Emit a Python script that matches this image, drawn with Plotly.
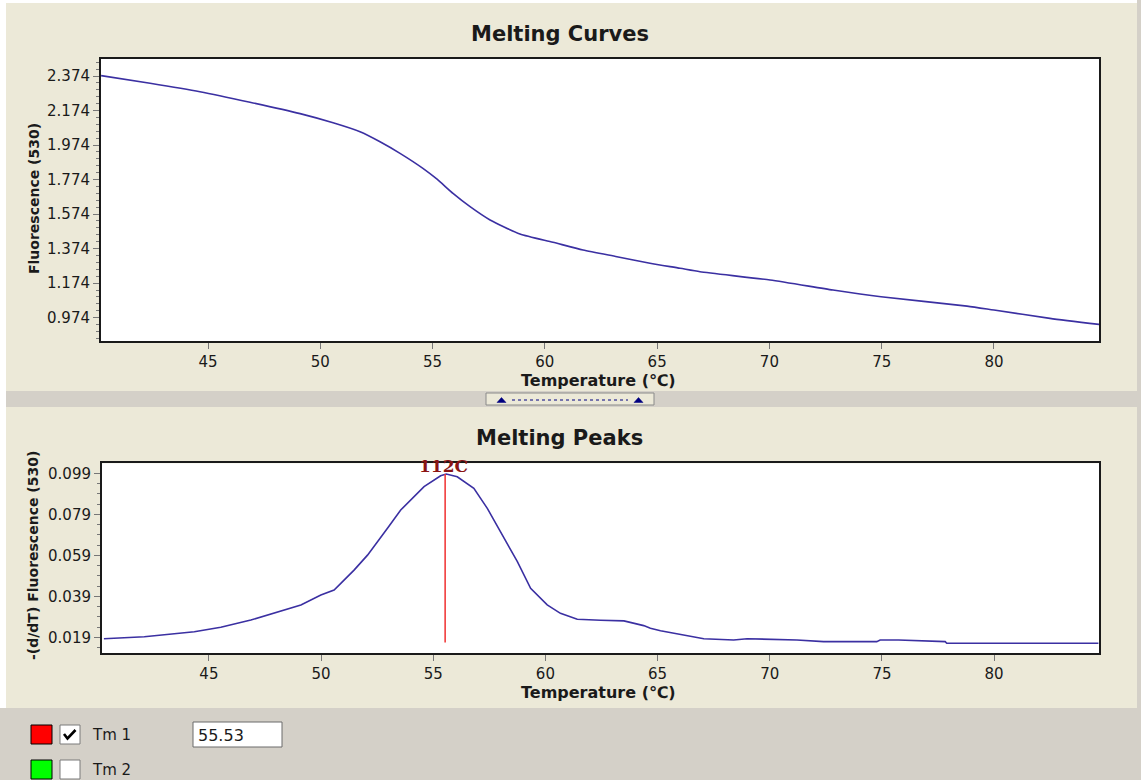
import plotly.graph_objects as go

W, H = 1141, 780

# ---------------- data ----------------
curve_temp = [40.24, 42.42, 44.64, 46.87, 49.10, 50.57, 51.77, 52.66, 53.55, 54.57,
              55.20, 55.91, 56.67, 57.56, 58.89, 60.36, 61.70, 63.21, 64.68, 66.02,
              66.91, 70.03, 72.83, 74.97, 78.80, 80.00, 82.49, 84.68]
curve_fluor = [2.376, 2.332, 2.283, 2.222, 2.156, 2.103, 2.051, 1.993, 1.926, 1.839,
               1.776, 1.694, 1.617, 1.540, 1.459, 1.411, 1.366, 1.327, 1.289, 1.260,
               1.240, 1.192, 1.134, 1.095, 1.041, 1.018, 0.970, 0.935]

peak_temp = [40.32, 42.12, 44.35, 45.53, 46.87, 48.21, 49.10, 49.99, 50.58, 50.88,
             51.47, 52.07, 52.36, 52.96, 53.55, 53.85, 54.59, 55.33, 55.58, 56.07,
             56.81, 57.41, 58.00, 58.75, 59.34, 60.08, 60.67, 61.42, 62.46, 63.50,
             64.38, 64.68, 65.13, 65.87, 66.46, 67.06, 68.39, 68.99, 71.21, 72.40,
             74.77, 74.92, 75.74, 77.82, 77.89, 84.65]
peak_deriv = [0.0183, 0.0193, 0.0217, 0.0239, 0.0274, 0.0320, 0.0348, 0.0396, 0.0421, 0.0453,
              0.0518, 0.0591, 0.0632, 0.0722, 0.0811, 0.0844, 0.0925, 0.0978, 0.0987, 0.0973,
              0.0917, 0.0819, 0.0705, 0.0559, 0.0429, 0.0348, 0.0307, 0.0278, 0.0273, 0.0270,
              0.0247, 0.0234, 0.0222, 0.0206, 0.0193, 0.0183, 0.0177, 0.0183, 0.0177, 0.0169,
              0.0169, 0.0177, 0.0177, 0.0169, 0.0161, 0.0161]

tm_value = 55.53
tm_line_y = [0.0165, 0.0987]
tm_label = "112C"

x_ticks = [45, 50, 55, 60, 65, 70, 75, 80]
top_y_ticks = [0.974, 1.174, 1.374, 1.574, 1.774, 1.974, 2.174, 2.374]
bot_y_ticks = [0.019, 0.039, 0.059, 0.079, 0.099]

legend_items = ["Tm 1", "Tm 2"]
legend_colors = ["#FF0000", "#00FF00"]
legend_checked = [True, False]

# ---------------- helpers ----------------
def X(px):
    return px / W

def Y(py):
    return 1 - py / H

BG = "#ECE9D8"
GRAY = "#D4D0C8"
LINE = "#3b30a2"
TXT = "#1a1a1a"

fig = go.Figure()

fig.add_trace(go.Scatter(x=curve_temp, y=curve_fluor, mode="lines",
                         line=dict(color=LINE, width=1.6, shape="spline", smoothing=0.6),
                         xaxis="x", yaxis="y", showlegend=False, hoverinfo="skip"))
fig.add_trace(go.Scatter(x=peak_temp, y=peak_deriv, mode="lines",
                         line=dict(color=LINE, width=1.6),
                         xaxis="x2", yaxis="y2", showlegend=False, hoverinfo="skip"))
fig.add_trace(go.Scatter(x=[tm_value, tm_value], y=tm_line_y, mode="lines",
                         line=dict(color="#F03030", width=1.5),
                         xaxis="x2", yaxis="y2", showlegend=False, hoverinfo="skip"))

xr = [40.235, 84.676]
tickfont = dict(family="DejaVu Sans", size=15, color=TXT)
axis_common = dict(showline=True, mirror=True, linecolor="#1a1a1a", linewidth=2,
                   ticks="outside", ticklen=6, tickcolor="#777777", tickwidth=1,
                   showgrid=False, zeroline=False, tickfont=tickfont)

layout = dict(
    width=W, height=H,
    margin=dict(l=0, r=0, t=0, b=0),
    paper_bgcolor=BG, plot_bgcolor="white",
    showlegend=False,
    xaxis=dict(domain=[X(101), X(1099)], range=xr, tickvals=x_ticks, anchor="y", **axis_common),
    yaxis=dict(domain=[Y(341), Y(59)], range=[0.8387, 2.4725], tickvals=top_y_ticks,
               tickformat=".3f", anchor="x",
               minor=dict(dtick=0.04, tick0=0.974, ticklen=3, ticks="outside", tickcolor="#777777"),
               **axis_common),
    xaxis2=dict(domain=[X(102), X(1099)], range=xr, tickvals=x_ticks, anchor="y2", **axis_common),
    yaxis2=dict(domain=[Y(653.3), Y(463.3)], range=[0.0112, 0.1039], tickvals=bot_y_ticks,
                tickformat=".3f", anchor="x2",
                minor=dict(dtick=0.005, tick0=0.019, ticklen=3, ticks="outside", tickcolor="#777777"),
                **axis_common),
)

shapes = []
def rect(x0, y0, x1, y1, fill, line_color=None, lw=0, layer="below"):
    shapes.append(dict(type="rect", xref="paper", yref="paper",
                       x0=X(x0), x1=X(x1), y0=Y(y1), y1=Y(y0),
                       fillcolor=fill, layer=layer,
                       line=dict(color=line_color or fill, width=lw)))

# window chrome
rect(0, 0, 6, 708, "white")
rect(0, 0, 1141, 3, "white")
rect(1137, 0, 1141, 780, GRAY)
rect(6, 391, 1137, 407, GRAY)
rect(0, 708, 1141, 780, GRAY)

# splitter button
rect(486, 393, 654, 405, BG, "#8a8a8a", 1, layer="above")
for cx in (501.5, 638.5):
    shapes.append(dict(type="path", xref="paper", yref="paper",
                       path=f"M {X(cx-4.5)} {Y(402.5)} L {X(cx+4.5)} {Y(402.5)} L {X(cx)} {Y(397.5)} Z",
                       fillcolor="#000080", line=dict(color="#000080", width=0.5), layer="above"))
shapes.append(dict(type="line", xref="paper", yref="paper", x0=X(512), x1=X(628),
                   y0=Y(400), y1=Y(400), line=dict(color="#000080", width=1, dash="dot"),
                   layer="above"))

# legend boxes
for i, (name, col, chk) in enumerate(zip(legend_items, legend_colors, legend_checked)):
    top = 725 + i * 35
    rect(31, top, 52, top + 19, col, "#000000", 1, layer="above")
    rect(60, top, 80, top + 19, "white", "#7a7a7a", 1, layer="above")
    if chk:
        shapes.append(dict(type="path", xref="paper", yref="paper",
                           path=f"M {X(64)} {Y(top+9)} L {X(67.5)} {Y(top+13.5)} L {X(75.5)} {Y(top+5)}",
                           line=dict(color="black", width=2.6), layer="above"))

# Tm text box
rect(193, 722, 282, 747, "white", "#6a6a6a", 1, layer="above")

layout["shapes"] = shapes

ann = []
def text(px, py, s, size, bold=False, color=TXT, xanchor="center", yanchor="middle",
         family="DejaVu Sans", angle=0):
    ann.append(dict(x=X(px), y=Y(py), xref="paper", yref="paper",
                    text=f"<b>{s}</b>" if bold else s, showarrow=False,
                    xanchor=xanchor, yanchor=yanchor, textangle=angle,
                    font=dict(family=family, size=size, color=color)))

text(560, 34, "Melting Curves", 21, bold=True)
text(559, 438, "Melting Peaks", 21, bold=True)
text(598, 380, "Temperature (℃)", 16, bold=True)
text(598, 692, "Temperature (℃)", 16, bold=True)
text(34, 199, "Fluorescence (530)", 14, bold=True, angle=-90)
text(33, 556, "-(d/dT) Fluorescence (530)", 14, bold=True, angle=-90)
text(443, 466, tm_label, 17, bold=True, color="#8B1414", family="DejaVu Serif")
for i, name in enumerate(legend_items):
    text(90, 735 + i * 35, name, 15, xanchor="left")
text(196, 735, f"{tm_value:.2f}", 16, xanchor="left")

layout["annotations"] = ann
fig.update_layout(**layout)

fig.write_html("out.html", config={"displayModeBar": False})
